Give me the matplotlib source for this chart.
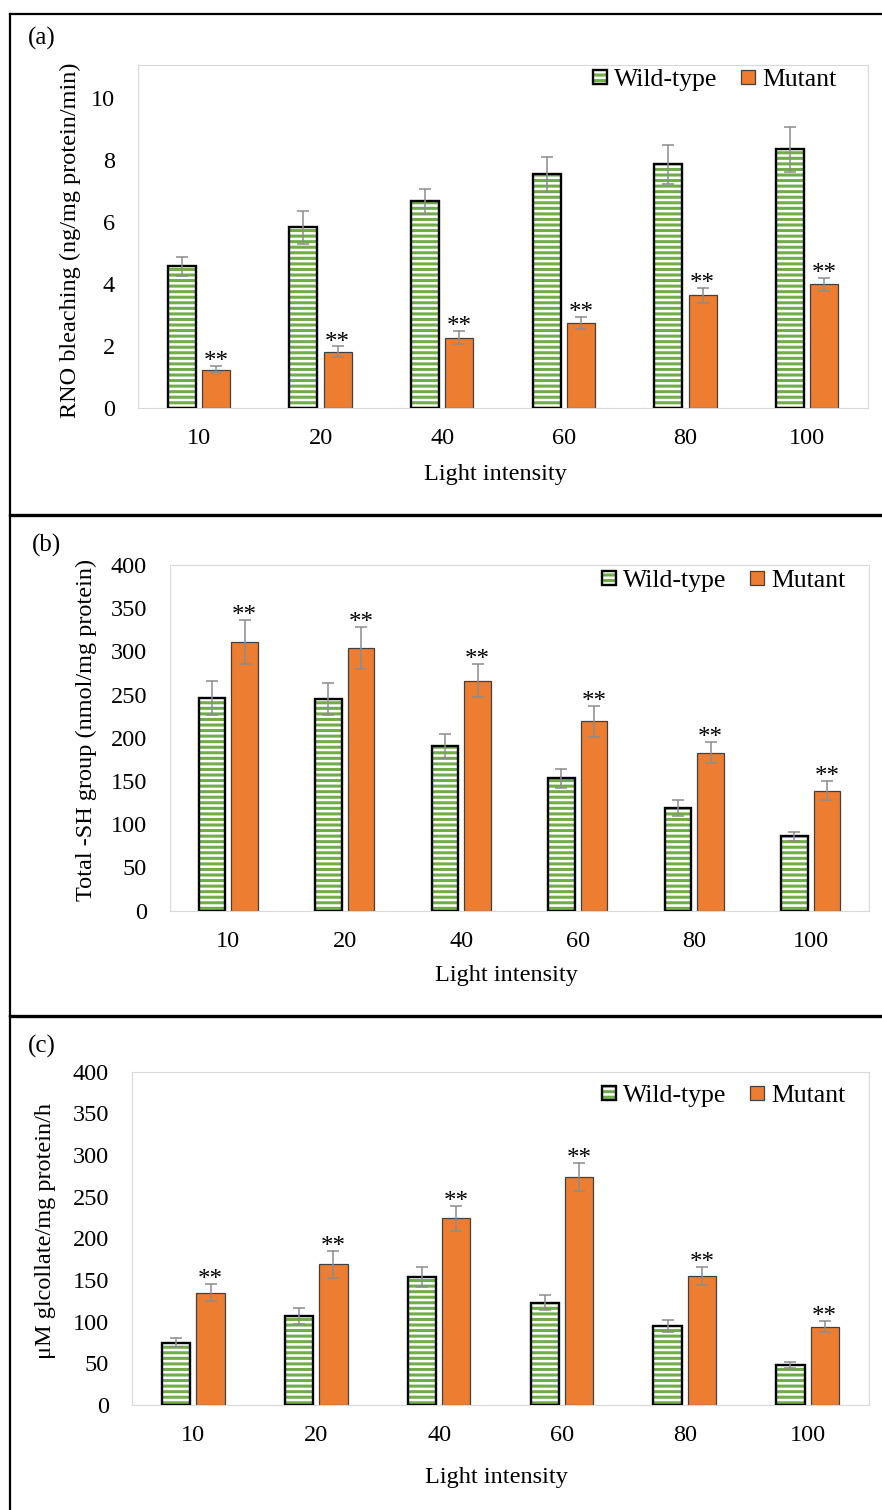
import matplotlib
matplotlib.use('Agg')
import matplotlib.pyplot as plt
import numpy as np
from matplotlib.patches import Patch
from matplotlib.legend_handler import HandlerTuple
from matplotlib.lines import Line2D

plt.rcParams['font.family'] = ['Liberation Serif', 'DejaVu Serif']
plt.rcParams['hatch.linewidth'] = 2.2

# ---- data ---------------------------------------------------------------
categories = ['10', '20', '40', '60', '80', '100']

rno_wt = [4.55, 5.82, 6.65, 7.52, 7.84, 8.33]
rno_wt_err = [0.32, 0.53, 0.41, 0.56, 0.63, 0.73]
rno_mut = [1.22, 1.80, 2.25, 2.73, 3.62, 3.97]
rno_mut_err = [0.12, 0.17, 0.21, 0.20, 0.24, 0.21]

sh_wt = [246, 245, 191, 153, 119, 86]
sh_wt_err = [20, 19, 14, 11, 9, 5]
sh_mut = [311, 304, 266, 219, 183, 139]
sh_mut_err = [25, 24, 19, 18, 12, 11]

gly_wt = [75, 107, 154, 123, 95, 48]
gly_wt_err = [5.5, 9.5, 12, 9.5, 7, 3.5]
gly_mut = [135, 169, 224, 274, 155, 94]
gly_mut_err = [10, 16, 15, 17, 11, 6.5]

# ---- style --------------------------------------------------------------
GREEN = '#70AD47'
ORANGE = '#ED7D31'
MUT_EDGE = '#404040'
ERR = '#8C8C8C'
AXIS_GREY = '#D9D9D9'
TICK_FS = 17.5
LABEL_FS = 17.5
LEGEND_FS = 18.5

W, H = 882, 1510
fig = plt.figure(figsize=(W / 100, H / 100), dpi=100)


def fx(px):
    return px / W


def fy(py):
    return 1 - py / H


def rect(l, t, r, b):
    return [l / W, 1 - b / H, (r - l) / W, (b - t) / H]


def panel(box, wt, wt_err, mut, mut_err, ylim, yticks, legend_end, legend_y):
    ax = fig.add_axes(box)
    x = np.arange(len(categories))
    off, w = 0.14, 0.23

    # striped wild-type bars: green stripes, then a black outline on top
    ax.bar(x - off, wt, w, color='white', edgecolor=GREEN, hatch='---',
           linewidth=0, zorder=2)
    ax.bar(x - off, wt, w, fill=False, edgecolor='black', linewidth=1.7,
           zorder=3)
    ax.bar(x + off, mut, w, color=ORANGE, edgecolor=MUT_EDGE, linewidth=0.9,
           zorder=2)

    for xs, ys, es in ((x - off, wt, wt_err), (x + off, mut, mut_err)):
        ax.errorbar(xs, ys, yerr=es, fmt='none', ecolor=ERR, elinewidth=1.1,
                    capsize=4.3, capthick=1.1, zorder=4)

    for xi, m, e in zip(x + off, mut, mut_err):
        ax.annotate('**', (xi, m + e), xytext=(0, -1.5),
                    textcoords='offset points', ha='center', va='baseline',
                    fontsize=18, zorder=5)

    ax.set_xlim(-0.5, len(categories) - 0.5)
    ax.set_ylim(*ylim)
    ax.set_yticks(yticks)
    ax.set_xticks(x, categories)
    ax.tick_params(axis='both', length=0, labelsize=TICK_FS, colors='black')
    ax.tick_params(axis='y', pad=16.5)
    ax.tick_params(axis='x', pad=14.5)
    for s in ax.spines.values():
        s.set_color(AXIS_GREY)
        s.set_linewidth(0.8)

    h_wt = (Patch(facecolor='white', edgecolor=GREEN, hatch='---', linewidth=0),
            Patch(facecolor='none', edgecolor='black', linewidth=1.7))
    h_mut = Patch(facecolor=ORANGE, edgecolor=MUT_EDGE, linewidth=0.9)
    ax.legend([h_wt, h_mut], ['Wild-type', 'Mutant'],
              handler_map={tuple: HandlerTuple(ndivide=1)},
              loc='center right', bbox_to_anchor=(fx(legend_end), fy(legend_y)),
              bbox_transform=fig.transFigure, frameon=False, ncol=2,
              borderpad=0, borderaxespad=0, handlelength=0.55,
              handleheight=0.45, handletextpad=0.3, columnspacing=0.9,
              fontsize=LEGEND_FS)
    return ax


# (a) RNO bleaching
panel(rect(138, 65, 868, 407.5), rno_wt, rno_wt_err, rno_mut, rno_mut_err,
      (0, 11.05), [0, 2, 4, 6, 8, 10], 837, 80)
fig.text(fx(70), fy(240), 'RNO bleaching (ng/mg protein/min)', rotation=90,
         ha='center', va='center', fontsize=LABEL_FS)
fig.text(fx(495), fy(480), 'Light intensity', ha='center', va='baseline',
         fontsize=LABEL_FS)
fig.text(fx(28), fy(38), '(a)', ha='left', va='center', fontsize=18)

# (b) total -SH groups
panel(rect(170, 565, 869, 910.7), sh_wt, sh_wt_err, sh_mut, sh_mut_err,
      (0, 400), list(range(0, 401, 50)), 846, 581)
fig.text(fx(86), fy(730), 'Total -SH group (nmol/mg protein)', rotation=90,
         ha='center', va='center', fontsize=LABEL_FS)
fig.text(fx(506), fy(980.5), 'Light intensity', ha='center', va='baseline',
         fontsize=LABEL_FS)
fig.text(fx(32), fy(545), '(b)', ha='left', va='center', fontsize=18)

# (c) glycolate
panel(rect(132, 1071.7, 869, 1405), gly_wt, gly_wt_err, gly_mut, gly_mut_err,
      (0, 400), list(range(0, 401, 50)), 846, 1096)
fig.text(fx(46), fy(1231), 'μM glcollate/mg protein/h', rotation=90,
         ha='center', va='center', fontsize=LABEL_FS)
fig.text(fx(496), fy(1483), 'Light intensity', ha='center', va='baseline',
         fontsize=LABEL_FS)
fig.text(fx(28), fy(1046), '(c)', ha='left', va='center', fontsize=18)

# panel frames
fig.add_artist(Line2D([fx(10), fx(10)], [fy(14), fy(1515)], color='black', lw=1.6))
fig.add_artist(Line2D([fx(10), fx(890)], [fy(14), fy(14)], color='black', lw=1.6))
for yy in (515, 1016):
    fig.add_artist(Line2D([fx(10), fx(890)], [fy(yy), fy(yy)], color='black', lw=2.4))

fig.savefig('out.png', dpi=100)
